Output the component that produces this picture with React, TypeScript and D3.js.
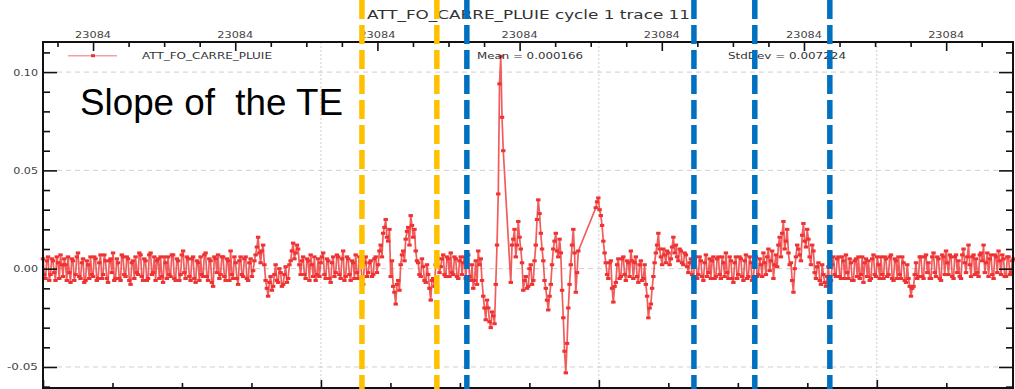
import React, { useEffect, useRef } from "react";
import * as d3 from "d3";

const W = 1015;
const H = 389;
const PLOT = { left: 43, right: 1013, top: 42, bottom: 388 };

// trace values in units of 1e-3; null = sample missing
// slopeMilli: samples at i*SAMPLE_DT, slopeMilliHalf: samples at (i+0.5)*SAMPLE_DT
const SAMPLE_DT = 0.009;
const slopeMilli: (number | null)[] = [
  // 0-83 flat noise
  5, -5, 6, -3, 4, -6, 3, 7, -4, 2,
  6, -7, 4, -3, 8, -5, 5, -6, 2, 6,
  -4, 5, -5, 7, -3, 4, -7, 5, 8, -5,
  3, -6, 6, -4, 5, -8, 4, 6, -3, 7,
  -6, 4, -5, 8, -2, -6, 5, 6, -7, 3,
  6, -4, 7, -6, 4, -3, 9, -5, 5, -6,
  6, -7, 3, 6, -4, 8, -6, 4, -9, 5,
  7, -3, 6, -6, 4, 9, -5, 3, -8, 6,
  -4, 6, -6, 5,
  // 84-103
  -1, 7, 16, 3, 12, -6, -14, -4, -9, 2,
  -7, -2, -8, 1, -5, 4, 13, 8, 10, -3,
  // 104-129
  6, -5, 4, 7, -4, -6, 5, 3, 8, -5,
  4, -7, 6, -2, 6, -5, 9, -4, 5, -6,
  3, 7, -5, 4, -8, 6,
  // 130-159 two bumps
  -2, 4, -3, 6, 2, 12, 18, 25, 14, -4,
  -9, -18, -6, 2, 9, 15, 21, 27, 16, 9,
  3, -4, 1, -7, -3, -16, -5, 2, 5, 1,
  // 160-175
  7, -4, 5, 8, -3, 5, -5, 6, 3, -5, 7, -6, -10, 4, 9, 5,
  // 176-187 dip and spike
  -14, -26, -20, -30, -24, -8,
  38, 108, 60, null, null, -7,
  // 188-199
  15, 6, 24, 10, -11, -4, -9, 2, -6, 12, 35, 18,
  // 200-214
  4, -10, -21, -8, 10, 18, 6, 8, -25, -53, -20, 2, 20, -12, 9,
  // 215-220 missing
  null, null, null, null, null, null,
  // 221-225
  31, 36, 27, 14, 3,
  // 226-240
  -5, 4, -17, -7, 5, -4, 6, -6, 3, 9,
  -5, 6, -7, 4, -5,
  // 241-246
  -8, -25, -18, -4, 8, 18,
  // 247-258
  6, 10, 3, 8, 5, 16, 12, 4, 9, 2, 7, -2,
  // 259-286
  5, -5, 6, -3, 4, -6, 7, -2, -5, 6,
  -4, 6, -5, 3, 8, -5, 4, -7, 6, -3,
  5, -6, 7, -4, 3, -5, 6, -3,
  // 287-312
  2, 8, -3, 10, 4, -5, 7, 12, 6, 24,
  14, 8, 3, -12, 6, 10, 4, 23, 11, 15,
  2, 9, -5, 3, -8, -3,
  // 313-315
  -9, 1, -6,
  // 316-388
  6, -4, 6, -5, 4, 7, -5, 3, -6, 5,
  6, -3, -7, 5, 4, -5, 7, -4, 2, 6,
  -5, 5, -3, 7, -6, 4, 6, -5, 3, -7,
  -5, -14, -9, 3, -4, 6, -5, 7, 3, -5,
  8, -4, 5, -6, 6, 9, -3, 6, -5, 7,
  4, -5, 10, -2, 12, -4, 7, 5, -4, 8,
  12, 3, -4, 7, -5, 6, 9, -3, 5, -4,
  6, -2, 5,
];

const slopeMilliHalf: (number | null)[] = [
  // 0-83
  -3, 4, -6, 5, -2, 6, -5, 2, 5, -6,
  -2, 5, -6, 6, -4, 3, -7, 4, -5, -3,
  6, -6, 3, -5, 7, -5, 4, -2, -6, 5,
  -5, 7, -3, 6, -6, 3, -5, -2, 8, -4,
  5, -6, 7, -3, 6, 4, -5, -4, 6, -5,
  -3, 7, -5, 5, -6, 7, -2, 6, -4, 5,
  -5, 4, -6, -3, 7, -4, 5, -7, 6, -2,
  -5, 6, -4, 5, -6, -3, 6, -5, 4, -3,
  5, -5, 3, -4,
  // 84-103
  4, 11, 8, 9, 2, -10, -7, -11, -3, -6,
  0, -9, -3, -7, 2, 9, 5, 12, 2, 4,
  // 104-129
  -3, 5, -6, 2, 6, -3, -4, 6, -3, 5,
  -5, 3, -4, 7, -3, 5, -6, 6, -3, 4,
  -5, -2, 6, -5, 3, -4,
  // 130-159
  3, -4, 5, -2, 9, 6, 21, 16, 20, 4,
  -12, -8, -11, 7, 4, 19, 12, 22, 20, 4,
  -3, 5, -6, 2, -10, -6, -9, 6, -2, 5,
  // 160-175
  -3, 6, -4, -2, 6, -4, 4, -3, 6, 3, -4, 2, -6, -8, 2, -6,
  // 176-187
  -20, -16, -27, -22, -28, 12,
  94, 77, null, null, null, 12,
  // 188-199
  20, 12, 16, 3, -6, -10, 0, -8, 4, 25, 28, 10,
  // 200-214
  -6, -16, -14, 2, 14, 9, 15, -11, -42, -38, -8, 12, 8, -2, null,
  // 215-220
  null, null, null, null, null, null,
  // 221-225
  34, 30, 22, 8, -3,
  // 226-240
  3, -10, -9, 2, -5, 5, -3, 4, -4, 4,
  3, -4, 2, -6, 2,
  // 241-246
  -14, -20, -10, 3, 12, 10,
  // 247-258
  2, 7, 9, 2, 11, 8, 6, 10, 3, 8, 1, 3,
  // 259-286
  -3, 4, -5, 6, -4, 3, -4, 5, 4, -5,
  5, -3, 6, -4, -2, 6, -5, 3, -5, 6,
  -4, 4, -5, 6, -6, 4, -4, 5,
  // 287-312
  -4, 3, 6, -1, 9, 2, 1, 16, 18, 10,
  20, 2, -6, 0, 12, 7, 17, 14, 20, 6,
  12, -2, 1, -6, 2, -7,
  // 313-315
  -4, -8, 2,
  // 316-387
  -3, 5, -4, 6, -5, -2, 5, -6, 4, -4,
  -5, 6, 3, -4, -6, 5, -3, 6, -5, -3,
  6, -4, 6, -5, 5, -5, -3, 6, -6, 2,
  -9, -10, -3, -5, 6, -4, 6, -2, -5, 6,
  -2, 6, -5, 7, -3, 3, 7, -4, 6, -2,
  -4, 7, 3, 6, 2, 6, -3, -2, 7, 4,
  -2, 8, 5, -3, 7, -2, 4, 7, -4, 6,
  -3, 4,
];

const timeDomain = [0, 3.49];
const timeMajor = [0, 1, 2, 3];
const timeMinor = [0.25, 0.5, 0.75, 1.25, 1.5, 1.75, 2.25, 2.5, 2.75, 3.25];
const timeGrid = [1, 2, 3];

// top axis (timestamp), every major labelled the same
const topDomain = [0.648, 7.47];
const topMajor = [1, 2, 3, 4, 5, 6, 7];
const topTickLabels = ["23084", "23084", "23084", "23084", "23084", "23084", "23084"];

const yDomain = [-0.0607, 0.1153];
const yMajor = [-0.05, 0, 0.05, 0.1];
const yTickLabels = ["-0.05", "0.00", "0.05", "0.10"];
const yMinor = [-0.06, -0.04, -0.03, -0.02, -0.01, 0.01, 0.02, 0.03, 0.04, 0.06, 0.07, 0.08, 0.09, 0.11];

// annotation lines (time, colour)
const markTimes = [1.1475, 1.417, 1.525, 2.342, 2.561, 2.831];
const markColors = ["#FFC000", "#FFC000", "#0070C0", "#0070C0", "#0070C0", "#0070C0"];

const RED = "#EE3333";

type Pt = { t: number; v: number };

export default function App() {
  const axRef = useRef<SVGGElement>(null);

  const x = d3.scaleLinear().domain(timeDomain).range([PLOT.left, PLOT.right]);
  const xTop = d3.scaleLinear().domain(topDomain).range([PLOT.left, PLOT.right]);
  const y = d3.scaleLinear().domain(yDomain).range([PLOT.bottom, PLOT.top]);

  const raw: (Pt | null)[] = [
    ...slopeMilli.map((v, i) => (v == null ? null : { t: i * SAMPLE_DT, v: v / 1000 })),
    ...slopeMilliHalf.map((v, i) => (v == null ? null : { t: (i + 0.5) * SAMPLE_DT, v: v / 1000 })),
  ];
  const points = (raw.filter((d) => d != null) as Pt[]).sort((a, b) => a.t - b.t);

  const line = d3
    .line<Pt>()
    .x((d) => x(d.t))
    .y((d) => y(d.v));

  const topMinor: number[] = [];
  for (let u = 0.75; u < 7.47; u += 0.25) if (Math.abs(u - Math.round(u)) > 0.01) topMinor.push(u);

  useEffect(() => {
    const g = d3.select(axRef.current);
    g.selectAll("*").remove();
    const tick = (sel: any) => {
      sel.select(".domain").remove();
      sel.selectAll("line").attr("stroke", "#111").attr("stroke-width", 1.6);
    };
    // left ticks, inward
    g.append("g").attr("transform", `translate(${PLOT.left},0)`)
      .call(d3.axisRight(y).tickValues(yMinor).tickSize(7).tickFormat(() => "")).call(tick);
    g.append("g").attr("transform", `translate(${PLOT.left},0)`)
      .call(d3.axisRight(y).tickValues(yMajor).tickSize(14).tickFormat(() => "")).call(tick);
    // right ticks, inward
    g.append("g").attr("transform", `translate(${PLOT.right},0)`)
      .call(d3.axisLeft(y).tickValues(yMinor).tickSize(7).tickFormat(() => "")).call(tick);
    g.append("g").attr("transform", `translate(${PLOT.right},0)`)
      .call(d3.axisLeft(y).tickValues(yMajor).tickSize(14).tickFormat(() => "")).call(tick);
    // top ticks
    g.append("g").attr("transform", `translate(0,${PLOT.top})`)
      .call(d3.axisBottom(xTop).tickValues(topMinor).tickSize(5).tickFormat(() => "")).call(tick);
    g.append("g").attr("transform", `translate(0,${PLOT.top})`)
      .call(d3.axisBottom(xTop).tickValues(topMajor).tickSize(9).tickFormat(() => "")).call(tick);
    // bottom ticks
    g.append("g").attr("transform", `translate(0,${PLOT.bottom})`)
      .call(d3.axisTop(x).tickValues(timeMinor).tickSize(5).tickFormat(() => "")).call(tick);
    g.append("g").attr("transform", `translate(0,${PLOT.bottom})`)
      .call(d3.axisTop(x).tickValues(timeMajor).tickSize(8).tickFormat(() => "")).call(tick);
  }, []);

  return (
    <svg
      width={W}
      height={H}
      style={{ position: "absolute", left: 0, top: 0, background: "#fff" }}
      fontFamily="DejaVu Sans, sans-serif"
    >
      {/* grid */}
      {yMajor.map((v) => (
        <line key={"gy" + v} x1={PLOT.left + 14} x2={PLOT.right - 14} y1={y(v)} y2={y(v)}
          stroke="#cfcfcf" strokeWidth={1} strokeDasharray="5 4" />
      ))}
      {timeGrid.map((t) => (
        <line key={"gx" + t} x1={x(t)} x2={x(t)} y1={PLOT.top} y2={PLOT.bottom}
          stroke="#cfcfcf" strokeWidth={1} strokeDasharray="2 2" />
      ))}

      {/* trace */}
      <path d={line(points) || ""} fill="none" stroke="#ee4040" strokeWidth={1.7} strokeOpacity={0.85}
        strokeLinejoin="round" />
      {points.map((d, i) => (
        <rect key={i} x={x(d.t) - 2.2} y={y(d.v) - 1.5} width={4.4} height={3} fill={RED} />
      ))}

      {/* frame */}
      <rect x={PLOT.left} y={PLOT.top} width={PLOT.right - PLOT.left} height={PLOT.bottom - PLOT.top}
        fill="none" stroke="#111" strokeWidth={2} />
      <g ref={axRef} />

      {/* tick labels */}
      {yMajor.map((v, i) => (
        <text key={"yl" + v} x={38} y={y(v) + 3.5} textAnchor="end" fontSize={9} fill="#444"
          textLength={yTickLabels[i].length * 6.2} lengthAdjust="spacingAndGlyphs">
          {yTickLabels[i]}
        </text>
      ))}
      {topMajor.map((u, i) => (
        <text key={"tl" + u} x={xTop(u)} y={38} textAnchor="middle" fontSize={9.5} fill="#444"
          textLength={36} lengthAdjust="spacingAndGlyphs">
          {topTickLabels[i]}
        </text>
      ))}

      {/* title */}
      <text x={367} y={18.5} fontSize={12} fill="#333" textLength={323} lengthAdjust="spacingAndGlyphs">
        ATT_FO_CARRE_PLUIE cycle 1 trace 11
      </text>

      {/* legend */}
      <line x1={68} x2={117} y1={55.7} y2={55.7} stroke="#f4a0a0" strokeWidth={1.5} />
      <rect x={91} y={54.2} width={4} height={3} fill={RED} />
      <text x={142} y={59} fontSize={9} fill="#333" textLength={130} lengthAdjust="spacingAndGlyphs">
        ATT_FO_CARRE_PLUIE
      </text>
      <text x={477} y={59} fontSize={9} fill="#333" textLength={106} lengthAdjust="spacingAndGlyphs">
        Mean = 0.000166
      </text>
      <text x={728} y={59} fontSize={9} fill="#333" textLength={118} lengthAdjust="spacingAndGlyphs">
        StdDev = 0.007224
      </text>

      {/* annotation */}
      <text x={80} y={115} fontSize={36} fill="#000" fontFamily="Liberation Sans, Arial, sans-serif"
        textLength={263} lengthAdjust="spacingAndGlyphs" style={{ whiteSpace: "pre" }}>
        Slope of  the TE
      </text>
      {markTimes.map((t, i) => (
        <line key={"m" + i} x1={x(t)} x2={x(t)} y1={0} y2={H}
          stroke={markColors[i]} strokeWidth={5.5} strokeDasharray="19 6" />
      ))}
    </svg>
  );
}
